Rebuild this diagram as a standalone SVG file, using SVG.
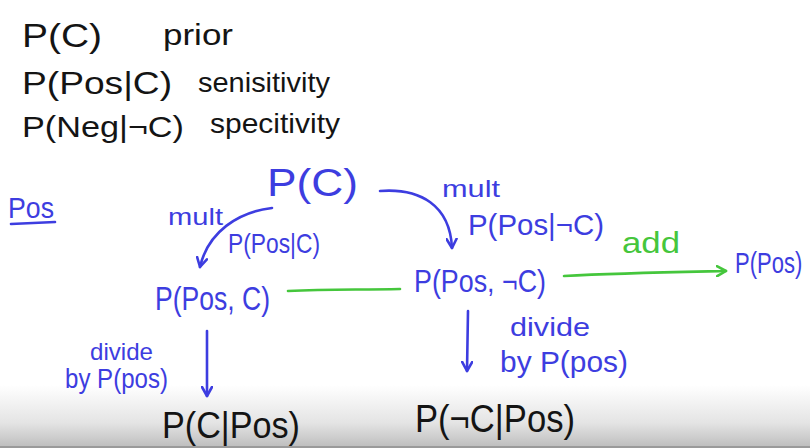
<svg xmlns="http://www.w3.org/2000/svg" width="810" height="448" viewBox="0 0 810 448">
  <defs>
    <linearGradient id="shade" x1="0" y1="0" x2="0" y2="1">
      <stop offset="0" stop-color="#ffffff"/>
      <stop offset="0.6" stop-color="#e4e4e4"/>
      <stop offset="1" stop-color="#bcbcbc"/>
    </linearGradient>
    <marker id="blueHead" viewBox="0 0 12 12" refX="10" refY="6" markerWidth="12" markerHeight="12" markerUnits="userSpaceOnUse" orient="auto">
      <path d="M1 1 L10 6 L1 11" fill="none" stroke="#3d3de0" stroke-width="2.6" stroke-linecap="round" stroke-linejoin="round"/>
    </marker>
    <marker id="greenHead" viewBox="0 0 12 12" refX="10" refY="6" markerWidth="12" markerHeight="12" markerUnits="userSpaceOnUse" orient="auto">
      <path d="M1 1 L10 6 L1 11" fill="none" stroke="#45c63c" stroke-width="2.6" stroke-linecap="round" stroke-linejoin="round"/>
    </marker>
  </defs>
  <style>
    text { font-family: "Liberation Sans", "DejaVu Sans", sans-serif; }
    .k { fill: #141414; }
    .b { fill: #3d3de0; }
    .g { fill: #45c63c; }
    .bl { fill: none; stroke: #3d3de0; stroke-width: 2.6; stroke-linecap: round; }
    .gl { fill: none; stroke: #45c63c; stroke-width: 2.6; stroke-linecap: round; }
  </style>
  <rect x="0" y="0" width="810" height="448" fill="#ffffff"/>
  <rect x="0" y="385" width="810" height="63" fill="url(#shade)"/>
  <rect x="0" y="446" width="810" height="2" fill="#9a9a9a"/>

  <g id="definitions">
    <text class="k" x="22" y="47" font-size="34" textLength="80" lengthAdjust="spacingAndGlyphs">P(C)</text>
    <text class="k" x="163" y="45" font-size="30" textLength="70" lengthAdjust="spacingAndGlyphs">prior</text>
    <text class="k" x="22" y="94" font-size="32" textLength="150" lengthAdjust="spacingAndGlyphs">P(Pos|C)</text>
    <text class="k" x="198" y="92" font-size="28" textLength="132" lengthAdjust="spacingAndGlyphs">senisitivity</text>
    <text class="k" x="22" y="137" font-size="30" textLength="162" lengthAdjust="spacingAndGlyphs">P(Neg|¬C)</text>
    <text class="k" x="210" y="133" font-size="28" textLength="130" lengthAdjust="spacingAndGlyphs">specitivity</text>
  </g>

  <g id="pos-heading">
    <text class="b" x="8" y="218" font-size="30" textLength="46" lengthAdjust="spacingAndGlyphs">Pos</text>
    <path class="bl" d="M11 224 L55 222"/>
  </g>

  <g id="connectors">
    <path class="bl" d="M272 208 C238 212 208 232 200 267" marker-end="url(#blueHead)"/>
    <text class="b" x="168" y="225" font-size="24" textLength="55" lengthAdjust="spacingAndGlyphs">mult</text>
    <text class="b" x="228" y="253" font-size="28" textLength="92" lengthAdjust="spacingAndGlyphs">P(Pos|C)</text>

    <path class="bl" d="M380 191 C420 188 450 205 452 248" marker-end="url(#blueHead)"/>
    <text class="b" x="442" y="197" font-size="24" textLength="58" lengthAdjust="spacingAndGlyphs">mult</text>
    <text class="b" x="468" y="235" font-size="30" textLength="136" lengthAdjust="spacingAndGlyphs">P(Pos|¬C)</text>

    <path class="gl" d="M288 291 C330 289 360 290 400 289"/>

    <path class="gl" d="M564 276 C620 273 680 272 726 271" marker-end="url(#greenHead)"/>
    <text class="g" x="622" y="253" font-size="30" textLength="58" lengthAdjust="spacingAndGlyphs">add</text>

    <path class="bl" d="M207 331 L207 396" marker-end="url(#blueHead)"/>
    <text class="b" x="90" y="360" font-size="24" textLength="63" lengthAdjust="spacingAndGlyphs">divide</text>
    <text class="b" x="65" y="388" font-size="28" textLength="103" lengthAdjust="spacingAndGlyphs">by P(pos)</text>

    <path class="bl" d="M468 311 L467 371" marker-end="url(#blueHead)"/>
    <text class="b" x="510" y="336" font-size="26" textLength="80" lengthAdjust="spacingAndGlyphs">divide</text>
    <text class="b" x="500" y="372" font-size="30" textLength="128" lengthAdjust="spacingAndGlyphs">by P(pos)</text>
  </g>

  <g id="node-pc">
    <text class="b" x="267" y="196" font-size="38" textLength="91" lengthAdjust="spacingAndGlyphs">P(C)</text>
  </g>
  <g id="node-pos-c">
    <text class="b" x="155" y="310" font-size="34" textLength="115" lengthAdjust="spacingAndGlyphs">P(Pos, C)</text>
  </g>
  <g id="node-pos-notc">
    <text class="b" x="414" y="292" font-size="32" textLength="132" lengthAdjust="spacingAndGlyphs">P(Pos, ¬C)</text>
  </g>
  <g id="node-ppos">
    <text class="b" transform="translate(735 273) scale(1 1.3)" x="0" y="0" font-size="22">P(Pos)</text>
  </g>
  <g id="node-c-given-pos">
    <text class="k" x="162" y="438" font-size="36" textLength="138" lengthAdjust="spacingAndGlyphs">P(C|Pos)</text>
  </g>
  <g id="node-notc-given-pos">
    <text class="k" x="415" y="432" font-size="38" textLength="160" lengthAdjust="spacingAndGlyphs">P(¬C|Pos)</text>
  </g>
</svg>
